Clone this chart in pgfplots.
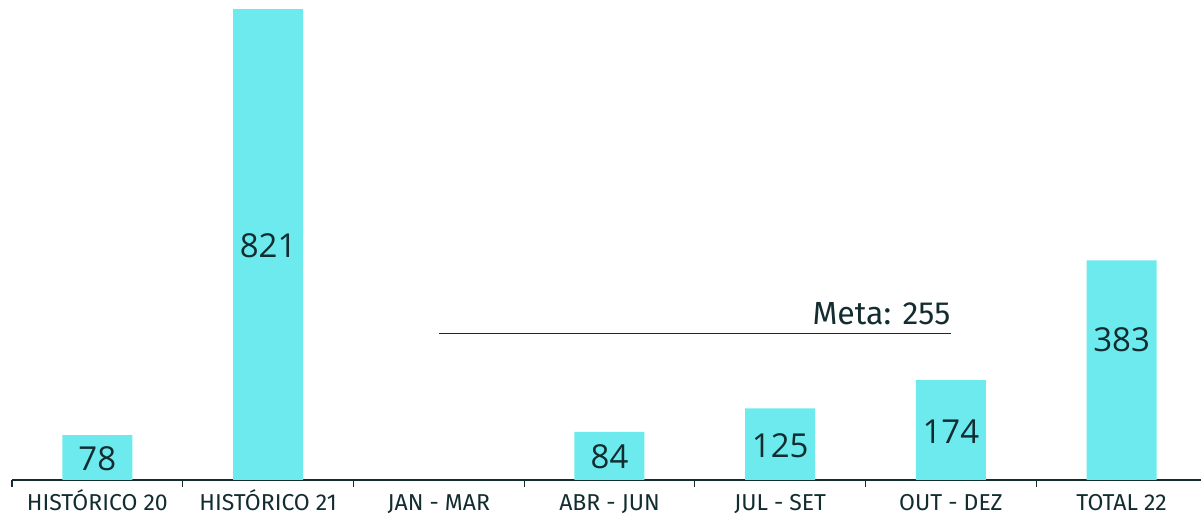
\documentclass[border=0pt]{standalone}
\usepackage{pgfplots}
\usepackage{pgfplotstable}
\pgfplotsset{compat=1.18}
\usepackage{fontspec}
\setmainfont{Fira Sans}
\newfontfamily\numfont{Open Sans}
\definecolor{barcyan}{RGB}{108,234,238}
\definecolor{ink}{RGB}{18,44,48}

% x = categoria, y = valor, ly = altura do rotulo
\pgfplotstableread{
x y ly
0 78 37
1 821 408
3 84 40
4 125 59
5 174 84
6 383 244
}\dados

\begin{document}
\begin{tikzpicture}[x=1pt,y=1pt]
\path[use as bounding box] (0,0) rectangle (600.5,258.5);
\begin{axis}[
  at={(6pt,18.5pt)}, anchor=south west,
  scale only axis, width=597.5pt, height=240pt,
  xmin=-0.5, xmax=6.5, ymin=0, ymax=836.7,
  axis x line*=bottom, axis y line=none,
  x axis line style={ink, line width=0.6pt, -},
  xtick={0,...,6},
  xticklabels={HISTÓRICO 20, HISTÓRICO 21, JAN - MAR, ABR - JUN, JUL - SET, OUT - DEZ, TOTAL 22},
  major tick length=0pt,
  minor xtick={-0.5,0.5,...,6.5},
  minor tick length=3.5pt,
  tick align=outside,
  tick style={ink, line width=0.6pt},
  xticklabel style={font=\fontsize{11.5}{13}\selectfont, text=ink, anchor=base,
    inner sep=0pt, text depth=0pt, yshift=-15.5pt},
  /pgf/number format/assume math mode=true,
  clip=false,
]
\addplot[ybar, bar width=35pt, fill=barcyan, draw=none] table[x=x, y=y] {\dados};
\addplot[draw=none, mark=none, point meta=explicit,
  nodes near coords, nodes near coords align=center,
  every node near coord/.style={anchor=center, text=ink, font=\numfont\fontsize{16.5}{18}\selectfont}]
  table[x=x, y=ly, meta=y] {\dados};
\addplot[ink, line width=0.6pt, mark=none] coordinates {(2,255) (5,255)}
  node[pos=1, anchor=south east, text=ink, font=\fontsize{16}{18}\selectfont, inner sep=0pt, yshift=4pt] {Meta: 255};
\end{axis}
\end{tikzpicture}
\end{document}
